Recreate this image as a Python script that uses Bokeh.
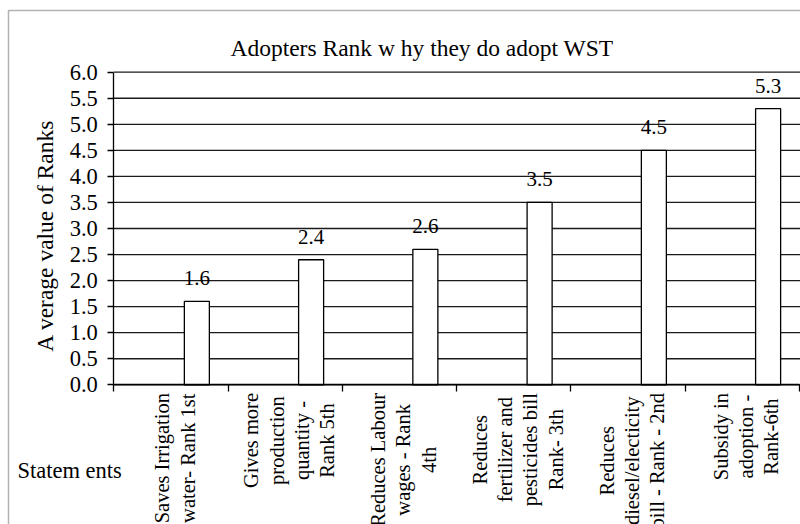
import numpy as np
from bokeh.plotting import figure
from bokeh.models import (Range1d, LinearAxis, FixedTicker, PrintfTickFormatter,
                          Label, PolyAnnotation)
from bokeh.core.properties import value
from bokeh.embed import file_html
from bokeh.resources import INLINE

# ---- data -------------------------------------------------------------
chart_title = "Adopters Rank w hy they do adopt WST"
y_title = "A verage value of Ranks"
x_title = "Statem ents"
statements = [
    "Saves Irrigation\nwater- Rank 1st",
    "Gives more\nproduction\nquantity -\nRank 5th",
    "Reduces Labour\nwages - Rank\n4th",
    "Reduces\nfertilizer and\npesticides bill\nRank- 3th",
    "Reduces\ndiesel/electicity\nbill - Rank - 2nd",
    "Subsidy in\nadoption -\nRank-6th",
]
avg_rank = [1.6, 2.4, 2.6, 3.5, 4.5, 5.3]
y_ticks = [0.0, 0.5, 1.0, 1.5, 2.0, 2.5, 3.0, 3.5, 4.0, 4.5, 5.0, 5.5, 6.0]

# ---- pixel geometry of the chart area ---------------------------------
W, H = 800, 524
X0_PX = 113.3           # pixel column of the value axis
X_PER_CAT = 114.25      # pixels per category slot
Y0_PX = 384.3           # pixel row of value 0
Y_PER_UNIT = 52.1       # pixels per unit of rank


def dx(px):
    return (px - X0_PX) / X_PER_CAT


def dy(py):
    return (Y0_PX - py) / Y_PER_UNIT


FONT = "Liberation Serif"
INK = "black"

n = len(statements)
slot_edges = list(range(n + 1))
slot_centers = [i + 0.5 for i in range(n)]
BAR_SHIFT = 0.227
BAR_WIDTH = 0.219
LABEL_SHIFT = 4 / X_PER_CAT
bar_x = [c + BAR_SHIFT for c in slot_centers]
label_x = [c + LABEL_SHIFT for c in slot_centers]
value_text = ["%.1f" % v for v in avg_rank]

p = figure(width=W, height=H,
           x_range=Range1d(dx(0), dx(W)), y_range=Range1d(dy(H), dy(0)),
           output_backend="svg", toolbar_location=None,
           x_axis_location=None, y_axis_location=None,
           min_border=0, outline_line_color=None,
           background_fill_color="white", border_fill_color="white")
p.grid.visible = False

# value axis, pinned at the left end of the category slots
yaxis = LinearAxis(ticker=FixedTicker(ticks=y_ticks),
                   formatter=PrintfTickFormatter(format="%.1f"),
                   bounds=(0, 6), fixed_location=0)
yaxis.axis_line_color = INK
yaxis.axis_line_width = 1.3
yaxis.major_tick_line_color = INK
yaxis.major_tick_line_width = 1.3
yaxis.major_tick_in = 0
yaxis.major_tick_out = 6
yaxis.minor_tick_line_color = None
yaxis.major_label_standoff = 10
yaxis.major_label_text_font = FONT
yaxis.major_label_text_font_size = "22.5px"
yaxis.major_label_text_color = INK
p.add_layout(yaxis, "left")

# category axis at value 0, ticks on the slot boundaries
xaxis = LinearAxis(ticker=FixedTicker(ticks=slot_edges),
                   bounds=(0, n), fixed_location=0,
                   major_label_overrides={e: "" for e in slot_edges})
xaxis.axis_line_color = INK
xaxis.axis_line_width = 1.3
xaxis.major_tick_line_color = INK
xaxis.major_tick_line_width = 1.3
xaxis.major_tick_in = 0
xaxis.major_tick_out = 7
xaxis.minor_tick_line_color = None
xaxis.major_label_text_color = None
p.add_layout(xaxis, "below")

# horizontal gridlines from the value axis to the right edge
k = len(y_ticks)
p.segment(x0=[0] * k, y0=y_ticks, x1=[dx(W + 5)] * k, y1=y_ticks,
          line_color="#1a1a1a", line_width=1.3)

# bars
p.vbar(x=bar_x, top=avg_rank, bottom=0, width=BAR_WIDTH,
       fill_color="white", line_color=INK, line_width=1.3)

# value labels above bars
p.text(x=bar_x, y=avg_rank, text=value_text,
       text_align="center", text_baseline="alphabetic", y_offset=-23,
       text_font=value(FONT), text_font_size="21px", text_color=INK)

# rotated statement labels under each slot
p.text(x=label_x, y=[dy(392.5)] * n, text=statements,
       angle=np.pi / 2, anchor=value("center_right"), text_align="center",
       text_font=value(FONT), text_font_size="20.5px", text_color=INK,
       text_line_height=1.15)

# value axis title
p.text(x=[dx(44)], y=[dy(235)], text=[y_title], angle=np.pi / 2,
       text_align="center", text_baseline="middle",
       text_font=value(FONT), text_font_size="23.5px", text_color=INK)

# category axis title
p.text(x=[dx(17)], y=[dy(470)], text=[x_title],
       text_align="left", text_baseline="middle",
       text_font=value(FONT), text_font_size="22.5px", text_color=INK)

# chart title
p.add_layout(Label(x=dx(421.5), y=dy(47), text=chart_title,
                   text_align="center", text_baseline="alphabetic",
                   text_font=FONT, text_font_size="23.5px", text_color=INK))

# chart area border
p.add_layout(PolyAnnotation(xs=[dx(8), dx(8), dx(W + 40), dx(W + 40)],
                            ys=[dy(H + 40), dy(10), dy(10), dy(H + 40)],
                            fill_alpha=0, line_color=INK, line_width=1.5))

open("out.html", "w").write(file_html(p, INLINE))
